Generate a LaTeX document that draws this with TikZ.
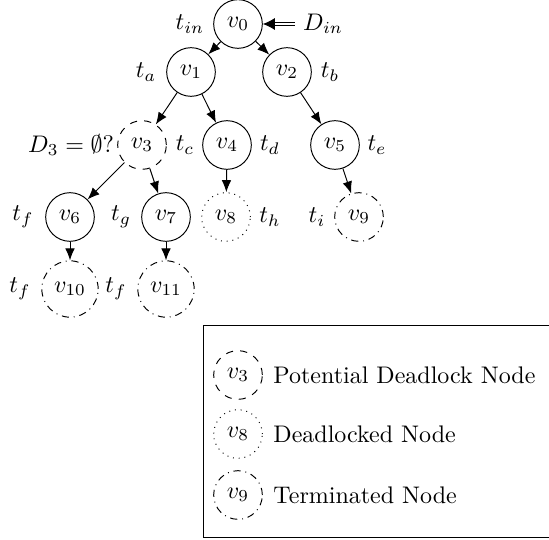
\documentclass[tikz,border=0pt]{standalone}
\usetikzlibrary{arrows.meta}
\begin{document}
\begin{tikzpicture}[x=0.4167pt,y=-0.4167pt,
  vtx/.style={circle,draw},
  pot/.style={circle,draw,dashed},
  dead/.style={circle,draw,dotted},
  term/.style={circle,draw,dash dot},
  arr/.style={-{Latex[length=5pt,width=4pt]}},
  lbl/.style={inner sep=0pt}]
\useasboundingbox (0,0) rectangle (549,539);
% tree nodes
\node[vtx]  (v0)  at (238,24)  {$v_0$};
\node[vtx]  (v1)  at (191,72)  {$v_1$};
\node[vtx]  (v2)  at (287,72)  {$v_2$};
\node[pot]  (v3)  at (142,145) {$v_3$};
\node[vtx]  (v4)  at (227,145) {$v_4$};
\node[vtx]  (v5)  at (335,145) {$v_5$};
\node[vtx]  (v6)  at (70,217)  {$v_6$};
\node[vtx]  (v7)  at (166,217) {$v_7$};
\node[dead] (v8)  at (226,217) {$v_8$};
\node[term] (v9)  at (359,217) {$v_9$};
\node[term] (v10) at (70,289)  {$v_{10}$};
\node[term] (v11) at (166,289) {$v_{11}$};
% labels
\node[lbl] (ltin) at (190,24)  {$t_{in}$};
\node[lbl] (din)  at (323,24)  {$D_{in}$};
\node[lbl] (lta)  at (146,72)  {$t_a$};
\node[lbl] (ltb)  at (330,72)  {$t_b$};
\node[lbl] (d3)   at (71,145)  {$D_3=\emptyset?$};
\node[lbl] (ltc)  at (185,145) {$t_c$};
\node[lbl] (ltd)  at (270,145) {$t_d$};
\node[lbl] (lte)  at (377,145) {$t_e$};
\node[lbl] (ltf)  at (23,217)  {$t_f$};
\node[lbl] (ltg)  at (121,217) {$t_g$};
\node[lbl] (lth)  at (270,217) {$t_h$};
\node[lbl] (lti)  at (317,217) {$t_i$};
\node[lbl] (ltf2) at (20,289)  {$t_f$};
\node[lbl] (ltf3) at (116,289) {$t_f$};
% connectors
\draw[arr] (v0) -- (v1);
\draw[arr] (v0) -- (v2);
\draw[arr] (v1) -- (v3);
\draw[arr] (v1) -- (v4);
\draw[arr] (v2) -- (v5);
\draw[arr] (v3) -- (v6);
\draw[arr] (v3) -- (v7);
\draw[arr] (v4) -- (v8);
\draw[arr] (v5) -- (v9);
\draw[arr] (v6) -- (v10);
\draw[arr] (v7) -- (v11);
\coordinate (dinw) at ([xshift=-8*0.4167pt]din.west);
\draw[double,double distance=1.2pt,-{Latex[length=5pt,width=5pt]}] (dinw) -- (v0);
% legend
\node[draw,rectangle,minimum width=380*0.4167pt,minimum height=212*0.4167pt,anchor=north west,inner sep=0pt] (leg) at (203,325) {};
\node[pot]  (l3) at (238,375) {$v_3$};
\node[dead] (l8) at (238,434) {$v_8$};
\node[term] (l9) at (238,495) {$v_9$};
\node[anchor=west,inner sep=0pt] (t3) at (273,375) {Potential Deadlock Node};
\node[anchor=west,inner sep=0pt] (t8) at (273,434) {Deadlocked Node};
\node[anchor=west,inner sep=0pt] (t9) at (273,495) {Terminated Node};
\end{tikzpicture}
\end{document}
